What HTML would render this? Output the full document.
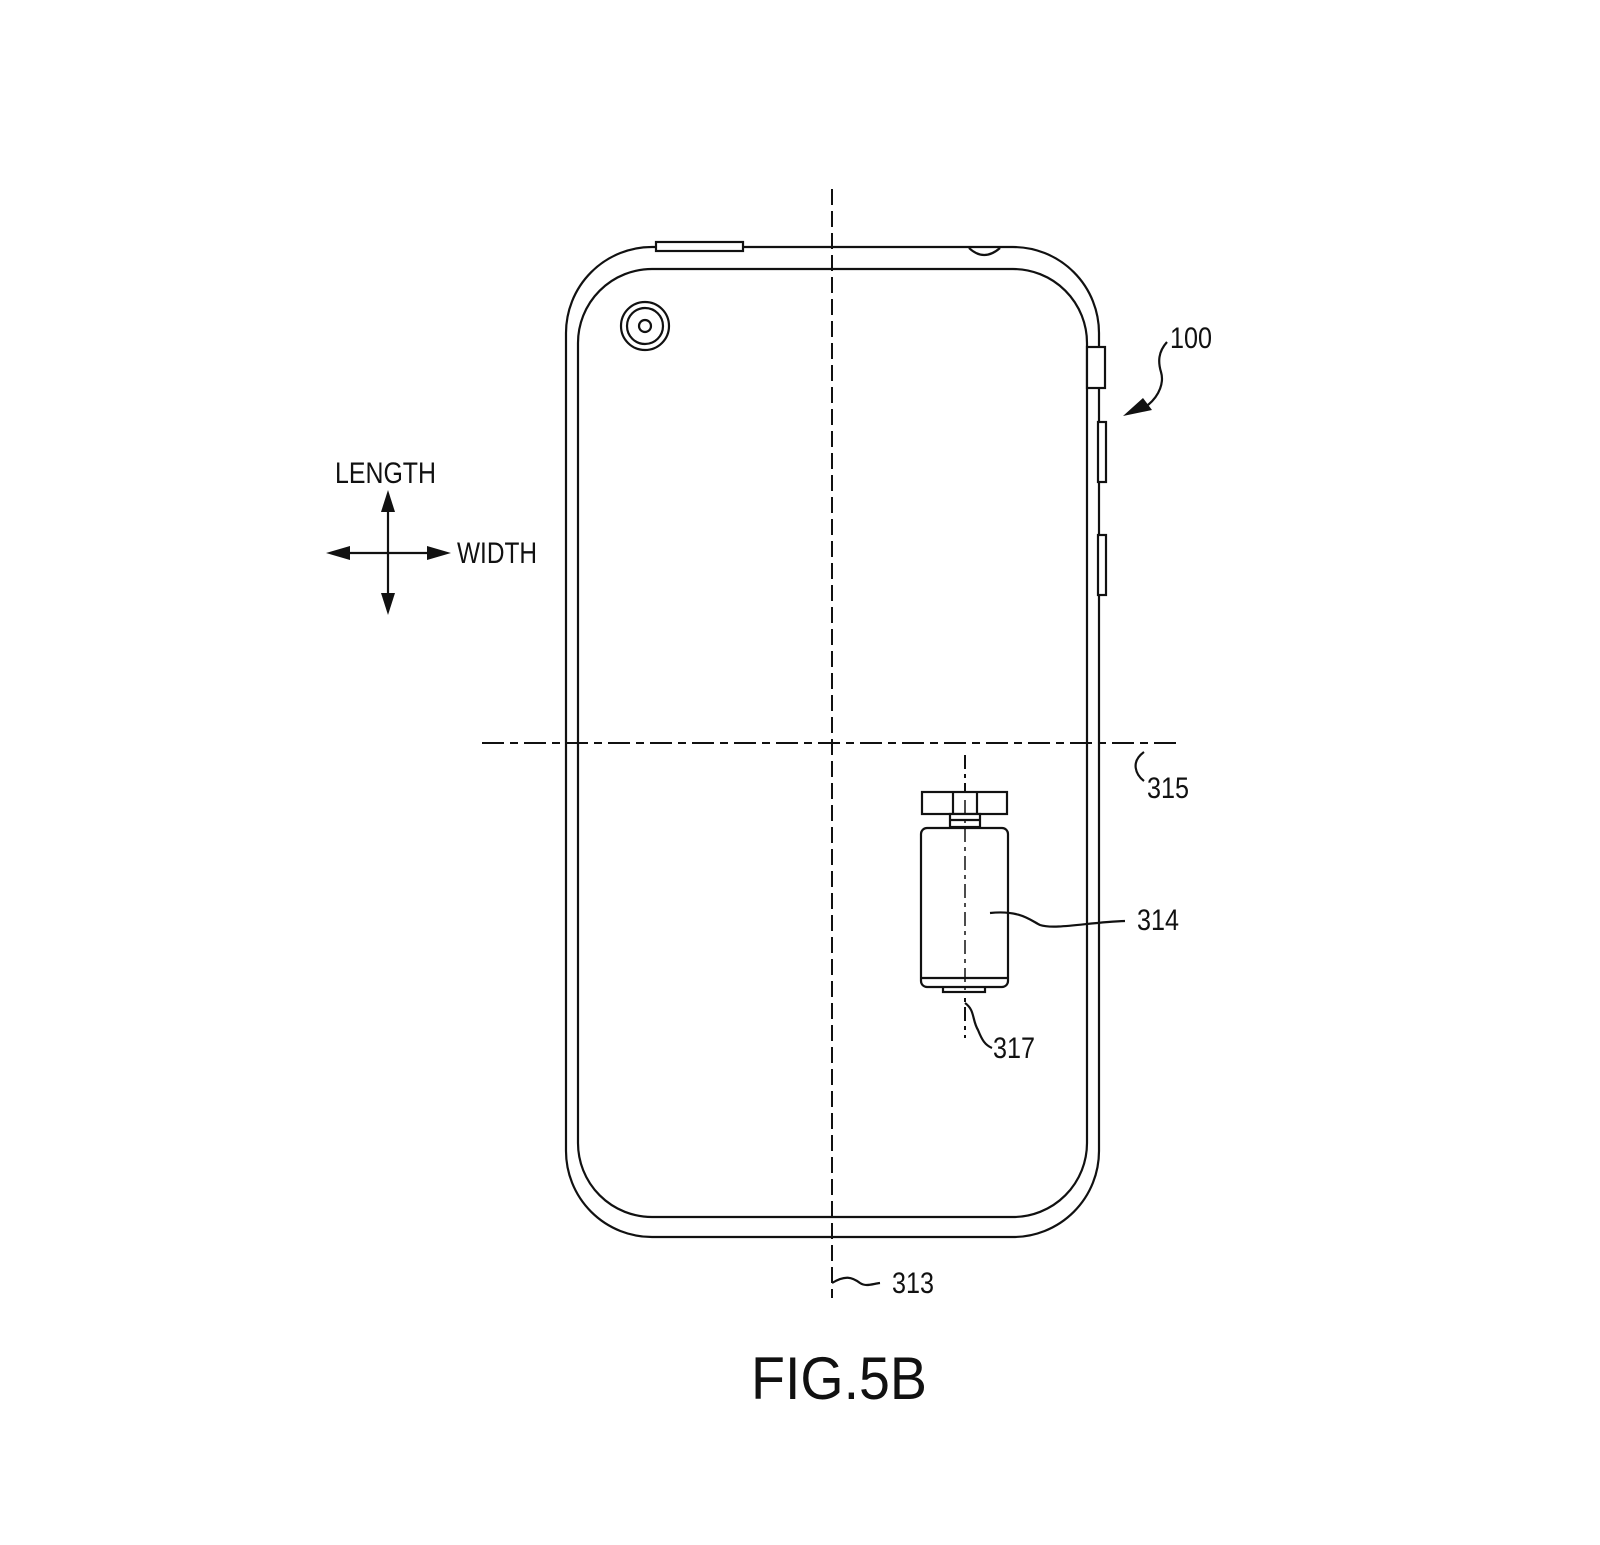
<!DOCTYPE html>
<html><head><meta charset="utf-8"><style>
html,body{margin:0;padding:0;background:#fff;}
svg{display:block;}
text{font-family:"Liberation Sans",sans-serif;fill:#111;}
</style></head><body>
<svg width="1600" height="1545" viewBox="0 0 1600 1545" xmlns="http://www.w3.org/2000/svg">
<g fill="none" stroke="#111" stroke-width="2.2">
  <rect x="566" y="247" width="533" height="990" rx="86" ry="86"/>
  <rect x="578" y="269" width="509" height="948" rx="74" ry="74"/>
  <rect x="656" y="242" width="87" height="9" fill="#fff"/>
  <path d="M969 248 Q984 262 1000 248"/>
  <circle cx="645" cy="326" r="24"/>
  <circle cx="645" cy="326" r="18"/>
  <circle cx="645" cy="326" r="6"/>
  <rect x="1087" y="347" width="18" height="41" fill="#fff"/>
  <rect x="1098" y="422" width="8" height="60" fill="#fff"/>
  <rect x="1098" y="535" width="8" height="60" fill="#fff"/>
</g>
<g stroke="#111" stroke-width="2" fill="none">
  <line x1="832" y1="189" x2="832" y2="1298" stroke-dasharray="16,6"/>
  <line x1="482" y1="743" x2="1181" y2="743" stroke-dasharray="22,6,8,6"/>
  <line x1="965" y1="755" x2="965" y2="1038" stroke-dasharray="14,5,4,5"/>
</g>
<g fill="#fff" stroke="#111" stroke-width="2.2">
  <rect x="922" y="792" width="85" height="22"/>
  <line x1="953" y1="792" x2="953" y2="814"/>
  <line x1="977" y1="792" x2="977" y2="814"/>
  <rect x="950" y="814" width="30" height="13"/>
  <line x1="950" y1="820" x2="980" y2="820"/>
  <rect x="943" y="985" width="42" height="7"/>
  <rect x="921" y="828" width="87" height="159" rx="6"/>
  <line x1="921" y1="978" x2="1008" y2="978"/>
</g>
<line x1="965" y1="800" x2="965" y2="990" stroke="#111" stroke-width="1.5" stroke-dasharray="14,5,4,5"/>
<g fill="none" stroke="#111" stroke-width="2.2">
  <path d="M990 913 C1020 910 1030 920 1040 925 C1055 930 1090 922 1125 921"/>
  <path d="M965 1003 C975 1010 972 1020 978 1030 C982 1040 985 1045 992 1048"/>
  <path d="M1144 752 C1130 762 1136 775 1144 781"/>
  <path d="M832 1283 C845 1275 852 1277 860 1283 C866 1287 872 1284 880 1283"/>
  <path d="M1167 342 C1158 352 1158 362 1161 372 C1164 382 1160 395 1148 405"/>
  <line x1="388" y1="505" x2="388" y2="602"/>
  <line x1="340" y1="553" x2="440" y2="553"/>
</g>
<g fill="#111">
  <path d="M1123 416 L1143 398 L1152 410 Z"/>
  <path d="M388 490 L381 512 L395 512 Z"/>
  <path d="M388 615 L381 593 L395 593 Z"/>
  <path d="M326 553 L350 546 L350 560 Z"/>
  <path d="M451 553 L427 546 L427 560 Z"/>
</g>
<text x="335" y="483" font-size="30" textLength="101" lengthAdjust="spacingAndGlyphs">LENGTH</text>
<text x="457" y="563" font-size="30" textLength="80" lengthAdjust="spacingAndGlyphs">WIDTH</text>
<text x="1170" y="348" font-size="30" textLength="42" lengthAdjust="spacingAndGlyphs">100</text>
<text x="1147" y="798" font-size="30" textLength="42" lengthAdjust="spacingAndGlyphs">315</text>
<text x="1137" y="930" font-size="30" textLength="42" lengthAdjust="spacingAndGlyphs">314</text>
<text x="993" y="1058" font-size="30" textLength="42" lengthAdjust="spacingAndGlyphs">317</text>
<text x="892" y="1293" font-size="30" textLength="42" lengthAdjust="spacingAndGlyphs">313</text>
<text x="751" y="1399" font-size="60" textLength="176" lengthAdjust="spacingAndGlyphs">FIG.5B</text>
</svg>
</body></html>
